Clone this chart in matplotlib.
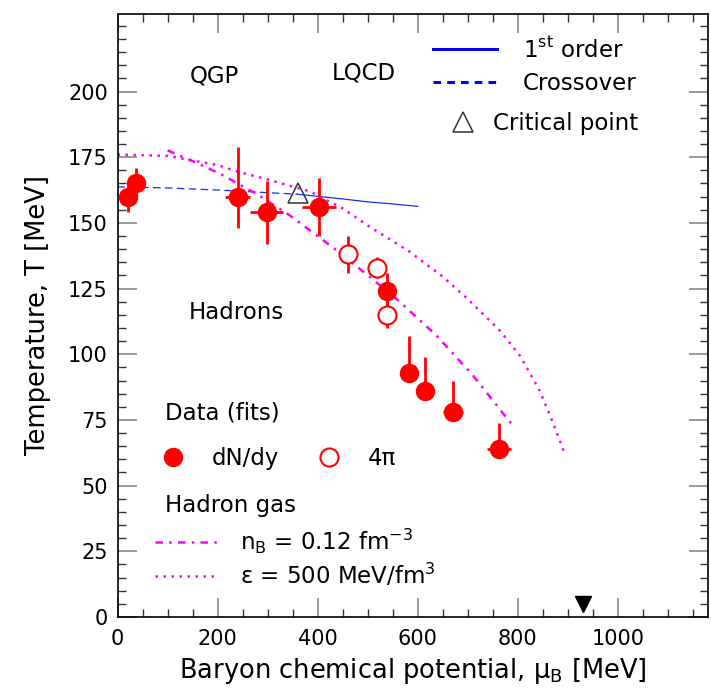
import numpy as np
import matplotlib
matplotlib.use("Agg")
import matplotlib.pyplot as plt
from matplotlib.lines import Line2D
from matplotlib.ticker import MultipleLocator

# Freeze-out fits, dN/dy (filled)
mu_dndy = [20, 37, 240, 298, 402, 538, 582, 614, 670, 762]
T_dndy = [160, 165, 160, 154, 156, 124, 93, 86, 78, 64]
T_dndy_lo = [6, 6, 12, 12, 11, 7, 0, 0, 0, 0]
T_dndy_hi = [5, 6, 19, 12, 11, 7, 14, 13, 12, 10]
mu_dndy_err = [0, 0, 25, 33, 34, 0, 0, 0, 20, 24]

# Freeze-out fits, 4pi (open)
mu_4pi = [461, 519, 538]
T_4pi = [138, 133, 115]
T_4pi_err = [7, 4, 5]

# Lattice QCD phase boundary
mu_cross = [0, 100, 200, 300, 360]
T_cross = [163.7, 163.3, 162.5, 161.5, 160.9]
mu_first = [360, 400, 450, 500, 550, 600]
T_first = [160.9, 160.1, 159.1, 158.0, 157.2, 156.3]
mu_crit, T_crit = 361, 161.5

# Hadron gas curves
mu_nb = [100, 150, 204, 278, 344, 430, 494, 558, 638, 710, 778, 794]
T_nb = [177.6, 173.5, 168.8, 161, 152.9, 140.7, 131, 121, 107, 92, 75.7, 71.9]
mu_eps = [0, 100, 200, 240, 300, 384, 450, 504, 584, 650, 700, 764, 804, 844, 870, 894]
T_eps = [176, 175.5, 172, 169.5, 166.5, 162, 155.5, 148.5, 139, 129.5, 121, 109, 99.5, 86, 74, 62]

# nucleon mass marker
mu_nucleon, T_nucleon = 930, 5

RED = "#ff0000"
MAG = "#ff00ff"
BLUE = "#1030ff"
FS = 16.5

plt.rcParams["font.family"] = "DejaVu Sans"
plt.rcParams["mathtext.fontset"] = "dejavusans"

fig = plt.figure(figsize=(7.11, 6.93), dpi=100)
ax = fig.add_axes([0.1653, 0.1097, 0.8305, 0.8701])

ax.plot(mu_cross, T_cross, color=BLUE, lw=0.9, ls=(0, (6, 3.5)))
ax.plot(mu_first, T_first, color=BLUE, lw=0.9)

ax.plot(mu_eps, T_eps, color=MAG, lw=1.8, ls=(0, (1, 2.2)))
ax.plot(mu_nb, T_nb, color=MAG, lw=1.8, ls=(0, (3, 2.5, 1, 2.5)))

ax.plot(mu_crit, T_crit, marker="^", ms=14, mfc="none", mec="#333333", mew=1.1, ls="none")

ax.errorbar(mu_dndy, T_dndy, yerr=[T_dndy_lo, T_dndy_hi], xerr=np.array(mu_dndy_err),
            fmt="o", ms=13, color=RED, mfc=RED, mec=RED, elinewidth=2, capsize=0, zorder=5)
ax.errorbar(mu_4pi, T_4pi, yerr=T_4pi_err, fmt="o", ms=13, color=RED, mfc="white",
            mec=RED, mew=1.5, elinewidth=2, capsize=0, zorder=6)

ax.plot(mu_nucleon, T_nucleon, marker="v", ms=12, color="black", ls="none", clip_on=False)

ax.text(194, 206, "QGP", fontsize=FS, ha="center", va="center")
ax.text(492, 207, "LQCD", fontsize=FS, ha="center", va="center")
ax.text(238, 116, "Hadrons", fontsize=FS, ha="center", va="center")
ax.text(0.0804, 0.338, "Data (fits)", fontsize=FS, transform=ax.transAxes, va="center")
ax.text(0.0804, 0.185, "Hadron gas", fontsize=FS, transform=ax.transAxes, va="center")

# legends
h_lqcd = [Line2D([], [], color="blue", lw=2.2),
          Line2D([], [], color="blue", lw=2.2, ls=(0, (2.5, 2)))]
leg1 = ax.legend(h_lqcd, [r"1$^{\mathrm{st}}$ order", "Crossover"],
                 loc="center left", bbox_to_anchor=(0.5345, 0.9138), frameon=False,
                 fontsize=FS, handlelength=2.8, handletextpad=1.1, labelspacing=0.45,
                 borderpad=0, borderaxespad=0)
ax.add_artist(leg1)

h_cp = [Line2D([], [], color="#333333", marker="^", ms=14, mfc="none", mew=1.1, ls="none")]
leg1b = ax.legend(h_cp, ["Critical point"], loc="center left", bbox_to_anchor=(0.558, 0.8176),
                  frameon=False, fontsize=FS, handlelength=1.4, handletextpad=0.6,
                  borderpad=0, borderaxespad=0)
ax.add_artist(leg1b)

h_data = [Line2D([], [], marker="o", ms=13, color=RED, ls="none"),
          Line2D([], [], marker="o", ms=13, mfc="white", mec=RED, mew=1.5, ls="none")]
leg2 = ax.legend(h_data, ["dN/dy", "4π"], ncol=2, loc="center left",
                 bbox_to_anchor=(0.0555, 0.262), frameon=False, fontsize=FS,
                 handlelength=2.0, handletextpad=0.7, columnspacing=1.15,
                 borderpad=0, borderaxespad=0)
ax.add_artist(leg2)

h_gas = [Line2D([], [], color=MAG, lw=1.8, ls=(0, (3, 2.5, 1, 2.5))),
         Line2D([], [], color=MAG, lw=1.8, ls=(0, (1, 2.2)))]
ax.legend(h_gas, [r"n$_{\mathrm{B}}$ = 0.12 fm$^{-3}$", r"ε = 500 MeV/fm$^{3}$"],
          loc="center left", bbox_to_anchor=(0.0635, 0.0978), frameon=False, fontsize=FS,
          handlelength=2.7, handletextpad=1.0, labelspacing=0.25,
          borderpad=0, borderaxespad=0)

ax.set_xlim(0, 1180)
ax.set_ylim(0, 229.5)
ax.xaxis.set_minor_locator(MultipleLocator(50))
ax.yaxis.set_minor_locator(MultipleLocator(5))
ax.set_xticks([0, 200, 400, 600, 800, 1000])
ax.set_yticks([0, 25, 50, 75, 100, 125, 150, 175, 200])
ax.tick_params(which="both", direction="in", top=True, right=True, labelsize=15)
ax.tick_params(which="major", length=14, width=1.2, color="#888888")
ax.tick_params(which="minor", length=6, width=1, color="#333333")
ax.tick_params(axis="x", which="major", pad=9)
ax.tick_params(axis="y", which="major", pad=7)
for sp in ax.spines.values():
    sp.set_linewidth(1.2)

ax.set_xlabel(r"Baryon chemical potential, μ$_{\mathrm{B}}$ [MeV]", fontsize=18.5, labelpad=5)
ax.set_ylabel("Temperature, T [MeV]", fontsize=18.5, labelpad=12)

fig.savefig("out.png", dpi=100)
